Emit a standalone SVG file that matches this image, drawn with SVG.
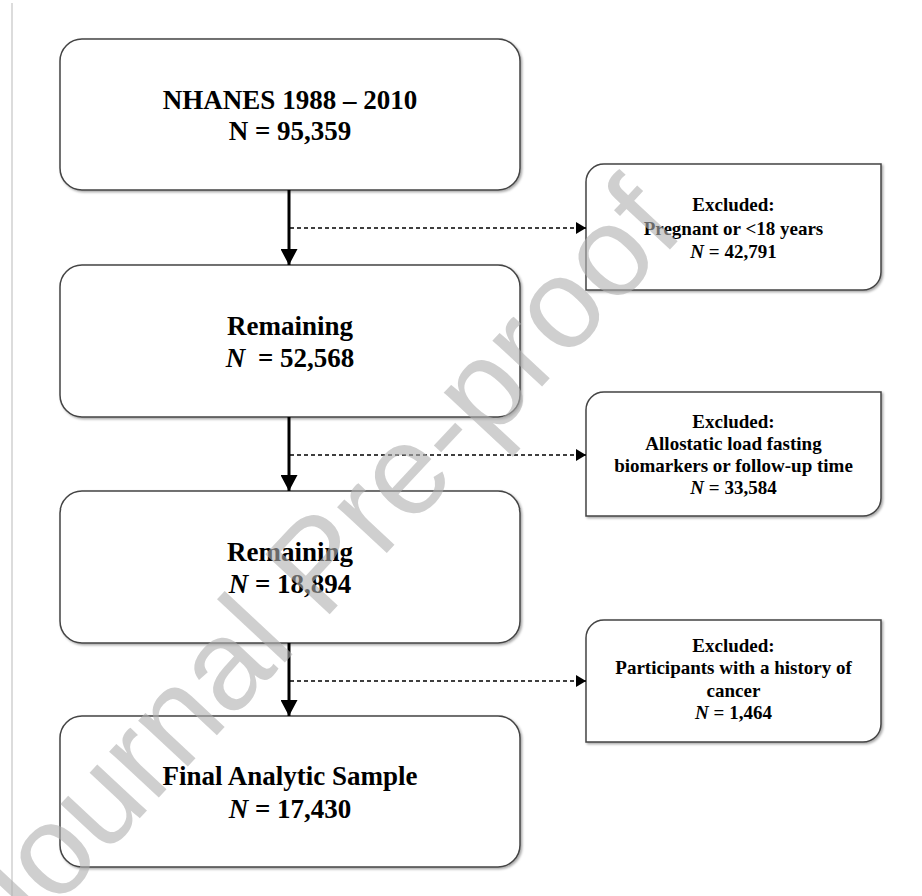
<svg xmlns="http://www.w3.org/2000/svg" width="922" height="896" viewBox="0 0 922 896">
<defs>
<filter id="sh" x="-5%" y="-5%" width="110%" height="115%">
<feDropShadow dx="1.5" dy="1.5" stdDeviation="1" flood-color="#000" flood-opacity="0.35"/>
</filter>
<marker id="ah" viewBox="0 0 16 17" refX="16" refY="8.5" markerWidth="16" markerHeight="17" markerUnits="userSpaceOnUse" orient="auto">
<path d="M0,0 L16,8.5 L0,17 Z" fill="#000"/>
</marker>
<marker id="ahs" viewBox="0 0 10 12" refX="10" refY="6" markerWidth="10" markerHeight="12" markerUnits="userSpaceOnUse" orient="auto">
<path d="M0,0 L10,6 L0,12 Z" fill="#000"/>
</marker>
</defs>
<style>
.box{fill:#fff;stroke:#444;stroke-width:1.5;filter:url(#sh)}
.main{font-family:"Liberation Serif","Times New Roman",serif;font-weight:bold;font-size:27px;fill:#000;text-anchor:middle}
.ex{font-family:"Liberation Serif","Times New Roman",serif;font-weight:bold;font-size:19px;fill:#000;text-anchor:middle}
.it{font-style:italic}
.solid{stroke:#000;stroke-width:3;fill:none}
.dash{stroke:#000;stroke-width:1.5;stroke-dasharray:4 3;fill:none}
.wm{font-family:"Liberation Sans",Arial,sans-serif;font-size:128px;fill:#b0b0b0;opacity:0.6}
</style>
<rect x="0" y="0" width="922" height="896" fill="#fff"/>
<rect x="11" y="3" width="2" height="893" fill="#dcdcdc"/>

<g id="node-nhanes">
<rect class="box" x="60" y="39" width="460" height="151" rx="22"/>
<text class="main" x="290" y="109">NHANES 1988 – 2010</text>
<text class="main" x="290" y="140">N = 95,359</text>
</g>
<g id="node-remaining1">
<rect class="box" x="60" y="265" width="460" height="152" rx="22"/>
<text class="main" x="290" y="335">Remaining</text>
<text class="main" x="290" y="367"><tspan class="it">N</tspan><tspan dx="6"> = 52,568</tspan></text>
</g>
<g id="node-remaining2">
<rect class="box" x="60" y="491" width="460" height="152" rx="22"/>
<text class="main" x="290" y="561">Remaining</text>
<text class="main" x="290" y="593"><tspan class="it">N</tspan> = 18,894</text>
</g>
<g id="node-final">
<rect class="box" x="60" y="716" width="460" height="151" rx="22"/>
<text class="main" x="290" y="785">Final Analytic Sample</text>
<text class="main" x="290" y="818"><tspan class="it">N</tspan> = 17,430</text>
</g>

<g id="node-excl1">
<path class="box" d="M586,182 A18,18 0 0 1 604,164 H881 V272 A18,18 0 0 1 863,290 H586 Z"/>
<text class="ex" x="733.5" y="211">Excluded:</text>
<text class="ex" x="733.5" y="234.5">Pregnant or &lt;18 years</text>
<text class="ex" x="733.5" y="258"><tspan class="it">N</tspan> = 42,791</text>
</g>
<g id="node-excl2">
<path class="box" d="M586,410 A18,18 0 0 1 604,392 H881 V498 A18,18 0 0 1 863,516 H586 Z"/>
<text class="ex" x="733.5" y="428">Excluded:</text>
<text class="ex" x="733.5" y="450">Allostatic load fasting</text>
<text class="ex" x="733.5" y="472">biomarkers or follow-up time</text>
<text class="ex" x="733.5" y="494"><tspan class="it">N</tspan> = 33,584</text>
</g>
<g id="node-excl3">
<path class="box" d="M586,638 A18,18 0 0 1 604,620 H881 V724 A18,18 0 0 1 863,742 H586 Z"/>
<text class="ex" x="733.5" y="652">Excluded:</text>
<text class="ex" x="733.5" y="674">Participants with a history of</text>
<text class="ex" x="733.5" y="697">cancer</text>
<text class="ex" x="733.5" y="719"><tspan class="it">N</tspan> = 1,464</text>
</g>

<g id="connectors">
<line class="solid" x1="289" y1="190" x2="289" y2="265" marker-end="url(#ah)"/>
<line class="dash" x1="290" y1="228" x2="586" y2="228" marker-end="url(#ahs)"/>
<line class="solid" x1="289" y1="417" x2="289" y2="491" marker-end="url(#ah)"/>
<line class="dash" x1="290" y1="455" x2="586" y2="455" marker-end="url(#ahs)"/>
<line class="solid" x1="289" y1="643" x2="289" y2="716" marker-end="url(#ah)"/>
<line class="dash" x1="290" y1="681" x2="586" y2="681" marker-end="url(#ahs)"/>
</g>

<text class="wm" transform="translate(12,955) rotate(-47)">Journal Pre-proof</text>
</svg>
